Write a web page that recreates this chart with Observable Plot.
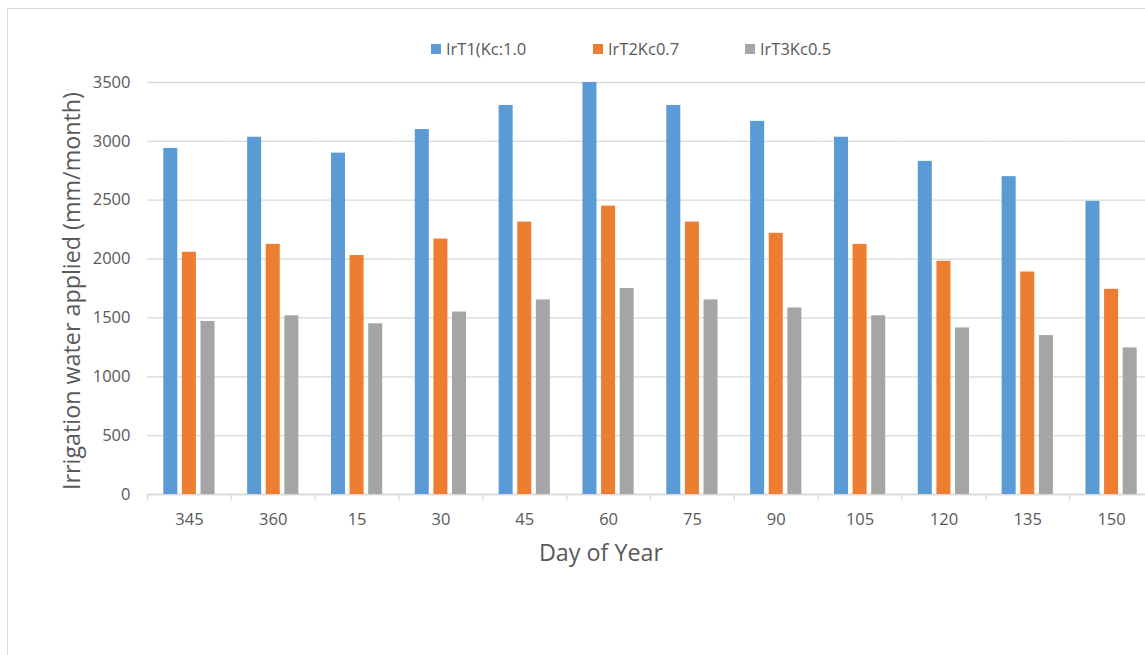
<!DOCTYPE html>
<html><head><meta charset="utf-8">
<script src="https://cdn.jsdelivr.net/npm/d3@7"></script>
<script src="https://cdn.jsdelivr.net/npm/@observablehq/plot@0.6"></script>
<style>
html,body{margin:0;padding:0;background:#fff;overflow:hidden;width:1145px;height:655px;font-family:"Open Sans",sans-serif;}
#border{position:absolute;left:7px;top:8px;width:1300px;height:800px;border:1.5px solid #d9d9d9;box-sizing:border-box;}
#chart{position:absolute;left:0;top:0;width:1160px;}
#chart svg{max-width:none !important;}
#chart svg text{font-size:16.5px;}
.lab{position:absolute;color:#595959;white-space:nowrap;}
.leg{position:absolute;top:39px;font-size:16.5px;color:#595959;white-space:nowrap;line-height:20px;}
.sw{position:absolute;width:10px;height:10px;top:5px;left:0;}
.leg span.t{position:absolute;left:15px;top:0;}
</style></head>
<body>
<div id="border"></div>
<div id="chart"></div>
<div id="legend"></div>
<div class="lab" id="xlab" style="left:601px;top:552px;transform:translate(-50%,-50%);font-size:23.3px;">Day of Year</div>
<div class="lab" id="ylab" style="left:71px;top:291px;transform:translate(-50%,-50%) rotate(-90deg);font-size:23.3px;">Irrigation water applied (mm/month)</div>
<script>
const days = [345, 360, 15, 30, 45, 60, 75, 90, 105, 120, 135, 150];
const seriesNames = ["IrT1(Kc:1.0", "IrT2Kc0.7", "IrT3Kc0.5"];
const irT1 = [2940, 3035, 2900, 3100, 3305, 3500, 3305, 3170, 3035, 2830, 2700, 2490];
const irT2 = [2058, 2125, 2030, 2170, 2314, 2450, 2314, 2219, 2125, 1981, 1890, 1743];
const irT3 = [1470, 1518, 1450, 1550, 1653, 1750, 1653, 1585, 1518, 1415, 1350, 1245];
const colors = ["#5b9bd5", "#ed7d31", "#a5a5a5"];
const yTicks = [0, 500, 1000, 1500, 2000, 2500, 3000, 3500];

const seriesValues = [irT1, irT2, irT3];
const table = [];
days.forEach((d, i) => seriesNames.forEach((s, j) => table.push({day: d, series: s, value: seriesValues[j][i]})));

const chart = Plot.plot({
  width: 1160, height: 655,
  marginLeft: 147, marginRight: 7, marginTop: 82, marginBottom: 161,
  style: {fontFamily: "Open Sans", fontSize: "16.5px", color: "#595959", background: "transparent", overflow: "visible", maxWidth: "none"},
  fx: {domain: days, padding: 0, round: false, axis: "bottom", tickSize: 0, tickPadding: 19, label: null},
  x: {domain: seriesNames, axis: null, round: false, paddingInner: 0.247, paddingOuter: 0.876},
  y: {domain: [0, 3500], ticks: yTicks, tickFormat: d3.format("d"), tickSize: 0, tickPadding: 17, label: null},
  color: {domain: seriesNames, range: colors},
  marks: [
    Plot.gridY(yTicks, {stroke: "#d9d9d9", strokeOpacity: 1, strokeWidth: 1.3}),
    Plot.ruleY([0], {stroke: "#d9d9d9", strokeWidth: 1.3}),
    Plot.frame({anchor: "left", insetTop: 412, insetBottom: -5, stroke: "#d9d9d9", strokeWidth: 1.3}),
    Plot.barY(table, {fx: "day", x: "series", y: "value", fill: "series"})
  ]
});
document.getElementById("chart").appendChild(chart);

const legX = [431, 593, 745];
const legend = document.getElementById("legend");
seriesNames.forEach((s, j) => {
  const item = document.createElement("div");
  item.className = "leg";
  item.style.left = legX[j] + "px";
  item.innerHTML = `<span class="sw" style="background:${colors[j]}"></span><span class="t">${s}</span>`;
  legend.appendChild(item);
});
</script>
</body></html>
